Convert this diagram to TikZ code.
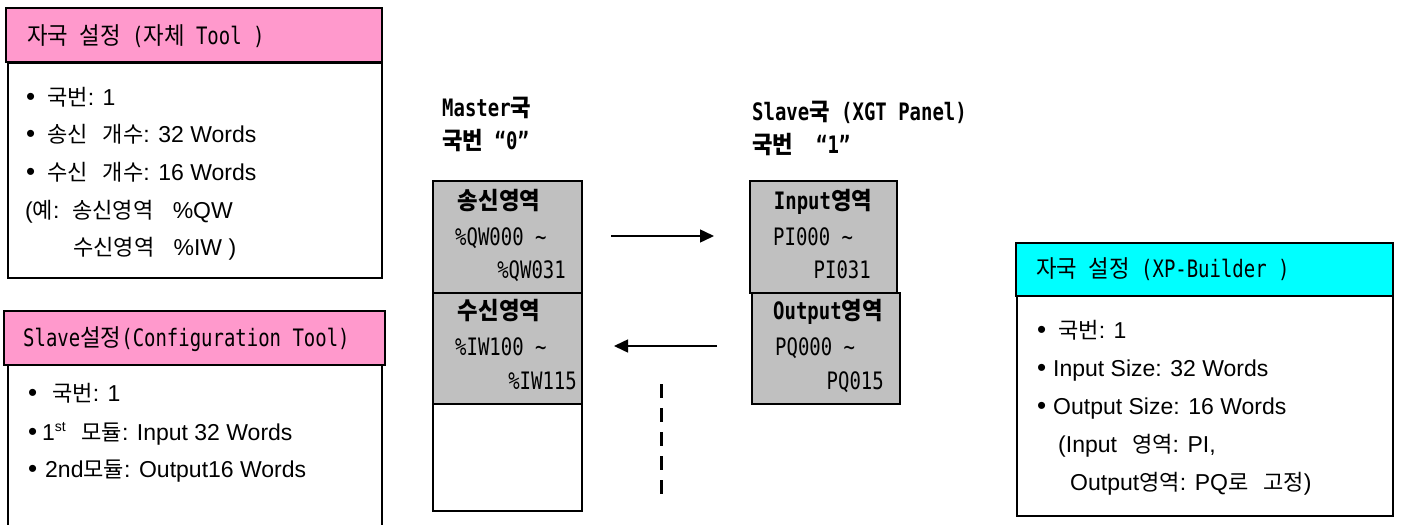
\documentclass[tikz,border=0pt]{standalone}
\usepackage{fontspec}
\usetikzlibrary{arrows.meta}
\setmainfont{Liberation Sans}
\newfontfamily\kr{Noto Sans CJK KR}[Scale=0.96]
\newfontfamily\hm{DejaVu Sans Mono}[FakeStretch=0.79]
\newfontfamily\hk{Noto Sans CJK KR}[FakeStretch=0.93]
\newcommand\K[1]{{\kr #1}}
\newcommand\Hk[1]{{\hk #1}}
\newcommand\fs[1]{\fontsize{#1}{#1}\selectfont}
\newcommand\bul[1]{\makebox[#1][l]{\fontsize{26}{26}\selectfont\raisebox{-0.5pt}{•}}}
\newcommand\gap{\hspace{15pt}}
\definecolor{pinkc}{HTML}{FF99CC}
\definecolor{cyanc}{HTML}{00FFFF}
\definecolor{grayc}{HTML}{C0C0C0}
\begin{document}
\begin{tikzpicture}[x=1pt,y=-1pt,
  box/.style={draw, line width=1.8pt, inner sep=0pt, anchor=north west},
  cell/.style={draw, line width=1.8pt, inner sep=0pt, anchor=north west},
  body/.style={inner sep=0pt, text height=16.5pt, text depth=0pt, anchor=west, font=\fs{23}},
  head/.style={inner sep=0pt, text height=18pt, text depth=0pt, anchor=west, font=\hm\fs{24}},
  ttl/.style={inner sep=0pt, text height=18pt, text depth=0pt, anchor=west, font=\hm\bfseries\fs{24}},
  lbl/.style={inner sep=0pt, text height=18pt, text depth=0pt, font=\hm\bfseries\fs{24}},
  addr/.style={inner sep=0pt, text height=18pt, text depth=0pt, font=\hm\fs{24}},
  arr/.style={line width=1.5pt, -{Triangle[length=14pt,width=13pt]}},
  dsh/.style={line width=3pt, dash pattern=on 14pt off 10pt}
]
\useasboundingbox (0,0) rectangle (1401,525);

% Box 1
\node[box, fill=pinkc, minimum width=376, minimum height=54] (h1) at (5,7) {};
\node[box, fill=white, minimum width=374, minimum height=215] (b1) at (7,62) {};
\node[head] (h1t) at (27,35) {\Hk{자국} \Hk{설정} (\Hk{자체} Tool )};
\node[body] (b1l1) at (26,97) {\bul{21pt}\K{국번}: 1};
\node[body] (b1l2) at (26,134) {\bul{21pt}\K{송신}\gap\K{개수}: 32 Words};
\node[body] (b1l3) at (26,172) {\bul{21pt}\K{수신}\gap\K{개수}: 16 Words};
\node[body] (b1l4) at (25,210) {(\K{예}:\ \ \K{송신영역}\ \ \ \%QW};
\node[body] (b1l5) at (73,247) {\K{수신영역}\ \ \ \%IW )};

% Box 2
\node[box, fill=pinkc, minimum width=381, minimum height=54] (h2) at (3,310) {};
\coordinate (b2a) at (8,525);
\coordinate (b2b) at (382,525);
\draw[line width=1.8pt] (b2a) -- (h2.south west -| b2a);
\draw[line width=1.8pt] (b2b) -- (h2.south west -| b2b);
\node[head] (h2t) at (23,337) {Slave\Hk{설정}(Configuration Tool)};
\node[body] (b2l1) at (28,393) {\bul{24pt}\K{국번}: 1};
\node[body] (b2l2) at (28,432) {\bul{14pt}1\textsuperscript{\fs{14}st}\gap\K{모듈}: Input 32 Words};
\node[body] (b2l3) at (28,469) {\bul{17pt}2nd\K{모듈}: Output16 Words};

% Master column
\node[ttl] (mt1) at (442,107) {Master\Hk{국}};
\node[ttl] (mt2) at (442,140) {\Hk{국번} “0”};
\node[cell, fill=grayc, minimum width=149, minimum height=112] (m1) at (432,180) {};
\node[cell, fill=grayc, minimum width=149, minimum height=111] (m2) at (432,292) {};
\node[cell, fill=white, minimum width=149, minimum height=107] (m3) at (432,403) {};
\node[lbl] (m1a) at (499,200) {\Hk{송신영역}};
\node[addr, anchor=west] (m1b) at (455,236) {\%QW000 \textasciitilde};
\node[addr, anchor=east] (m1c) at (566,269) {\%QW031};
\node[lbl] (m2a) at (499,310) {\Hk{수신영역}};
\node[addr, anchor=west] (m2b) at (455,346) {\%IW100 \textasciitilde};
\node[addr, anchor=east] (m2c) at (577,380) {\%IW115};

% Slave column
\node[ttl] (st1) at (752,111) {Slave\Hk{국} (XGT Panel)};
\node[ttl] (st2) at (752,144) {\Hk{국번}\ \ “1”};
\node[cell, fill=grayc, minimum width=147, minimum height=112] (s1) at (749,180) {};
\node[cell, fill=grayc, minimum width=148, minimum height=111] (s2) at (751,292) {};
\node[lbl] (s1a) at (823,200) {Input\Hk{영역}};
\node[addr, anchor=west] (s1b) at (773,236) {PI000 \textasciitilde};
\node[addr, anchor=east] (s1c) at (871,269) {PI031};
\node[lbl] (s2a) at (828,310) {Output\Hk{영역}};
\node[addr, anchor=west] (s2b) at (775,346) {PQ000 \textasciitilde};
\node[addr, anchor=east] (s2c) at (884,380) {PQ015};

% arrows
\coordinate (a1s) at (611,236);
\coordinate (a1e) at (714,236);
\coordinate (a2s) at (717,346);
\coordinate (a2e) at (614,346);
\draw[arr] (a1s) -- (a1e);
\draw[arr] (a2s) -- (a2e);
\coordinate (d1) at (661,384);
\coordinate (d2) at (661,500);
\draw[dsh] (d1) -- (d2);

% Box 3
\node[box, fill=cyanc, minimum width=377, minimum height=53] (h3) at (1015,242) {};
\node[box, fill=white, minimum width=376, minimum height=220] (b3) at (1016,295) {};
\node[head] (h3t) at (1036,268) {\Hk{자국} \Hk{설정} (XP-Builder )};
\node[body] (b3l1) at (1037,330) {\bul{21pt}\K{국번}: 1};
\node[body] (b3l2) at (1037,368) {\bul{16pt}Input Size: 32 Words};
\node[body] (b3l3) at (1037,406) {\bul{16pt}Output Size: 16 Words};
\node[body] (b3l4) at (1058,444) {(Input\gap\K{영역}: PI,};
\node[body] (b3l5) at (1070,482) {Output\K{영역}: PQ\K{로}\gap\K{고정})};
\end{tikzpicture}
\end{document}
